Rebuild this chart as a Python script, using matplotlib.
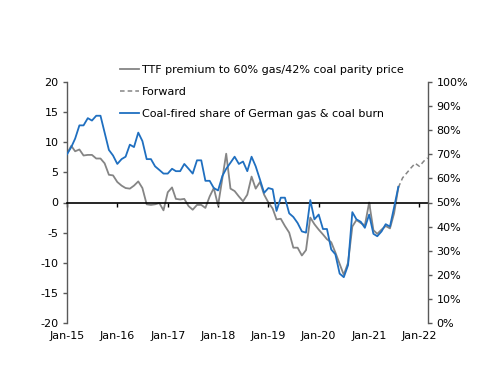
import matplotlib
matplotlib.use("Agg")
import matplotlib.pyplot as plt
import pandas as pd

# ---- data (monthly, Jan-15 .. Aug-21) ----
ttf_premium = [8.1, 9.4, 8.5, 8.8, 7.8, 7.9, 7.9, 7.3, 7.3, 6.5, 4.6, 4.5,
               3.4, 2.8, 2.4, 2.3, 2.8, 3.5, 2.4, -0.3, -0.4, -0.3, -0.1, -1.3,
               1.7, 2.5, 0.6, 0.5, 0.6, -0.6, -1.2, -0.4, -0.4, -0.9, 1.0, 2.4,
               -0.5, 4.0, 8.1, 2.3, 1.9, 1.0, 0.2, 1.3, 4.3, 2.3, 3.4, 1.3,
               0.0, -1.0, -2.8, -2.7, -3.9, -5.0, -7.5, -7.5, -8.8, -7.9, -2.5, -3.6,
               -4.5, -5.3, -6.1, -6.6, -8.3, -10.2, -12.0, -10.0, -4.0, -2.9, -3.4, -3.8,
               0.0, -4.6, -5.2, -4.5, -3.9, -4.3, -1.8, 2.5]

coal_share = [70, 73, 76.5, 82, 82, 85, 84, 86, 86, 79, 71.8, 69.5,
              66, 68, 69, 74, 73, 79, 75.5, 68, 68, 65, 63.5, 62,
              62, 64, 63, 63, 66, 64, 62, 67.5, 67.5, 59, 59, 56,
              55, 61, 64, 66.5, 69, 66, 67, 63, 69, 65, 59.5, 54,
              56, 55.5, 46.5, 52, 52, 45.5, 44, 41.5, 38, 37.5, 51, 43,
              45, 39, 39, 30.5, 28.5, 20.5, 19, 24, 46, 43, 42, 39.5,
              45, 37, 36, 38, 41, 40, 48, 56.5]

# forward curve (Aug-21 .. Mar-22)
forward = [2.5, 4.1, 4.9, 5.75, 6.5, 6.0, 6.85, 7.4]

hist_dates = pd.date_range("2015-01-01", periods=len(ttf_premium), freq="MS")
fwd_dates = pd.date_range("2021-08-01", periods=len(forward), freq="MS")

tick_dates = pd.date_range("2015-01-01", "2022-01-01", freq="YS")
tick_labels = ["Jan-15", "Jan-16", "Jan-17", "Jan-18", "Jan-19", "Jan-20", "Jan-21", "Jan-22"]
left_ticks = [-20, -15, -10, -5, 0, 5, 10, 15, 20]
right_ticks = [0, 10, 20, 30, 40, 50, 60, 70, 80, 90, 100]

labels = ["TTF premium to 60% gas/42% coal parity price",
          "Forward",
          "Coal-fired share of German gas & coal burn"]

GREY = "#858585"
BLUE = "#1f6fc0"
SPINE = "#595959"

plt.rcParams["font.family"] = ["DejaVu Sans"]
plt.rcParams["font.size"] = 8

fig = plt.figure(figsize=(5.0, 3.86), dpi=100)
ax = fig.add_axes([67 / 500, 1 - 323 / 386, (428 - 67) / 500, (323 - 82) / 386])
ax2 = ax.twinx()

l1, = ax.plot(hist_dates, ttf_premium, color=GREY, lw=1.3)
l2, = ax.plot(fwd_dates, forward, color=GREY, lw=1.1, ls=(0, (3, 2)))
l3, = ax2.plot(hist_dates, coal_share, color=BLUE, lw=1.3)

xmin = pd.Timestamp("2015-01-01")
xmax = pd.Timestamp("2022-03-04")
ax.set_xlim(xmin, xmax)
ax.set_ylim(-20, 20)
ax2.set_ylim(0, 100)

ax.set_yticks(left_ticks)
ax.set_yticklabels([str(v) for v in left_ticks])
ax2.set_yticks(right_ticks)
ax2.set_yticklabels([f"{v}%" for v in right_ticks])

ax.set_xticks(tick_dates)
ax.set_xticklabels(tick_labels)

for a in (ax, ax2):
    a.spines["top"].set_visible(False)
ax.spines["right"].set_visible(False)
ax2.spines["left"].set_visible(False)
ax2.spines["bottom"].set_visible(False)
ax.spines["left"].set_color(SPINE)
ax2.spines["right"].set_color(SPINE)
ax.spines["left"].set_linewidth(1.0)
ax2.spines["right"].set_linewidth(1.0)

# x-axis along zero line
ax.spines["bottom"].set_position(("data", 0))
ax.spines["bottom"].set_color("black")
ax.spines["bottom"].set_linewidth(1.2)
ax.tick_params(axis="x", direction="out", length=3, width=1, color="black",
               pad=89.5, labelsize=8)
ax.tick_params(axis="y", direction="out", length=3, width=1, color=SPINE,
               pad=3, labelsize=8)
ax2.tick_params(axis="y", direction="out", length=3, width=1, color=SPINE,
                pad=3, labelsize=8)

leg = fig.legend([l1, l2, l3], labels, loc="upper left",
                 bbox_to_anchor=(120 / 500, 1 - 65 / 386),
                 frameon=False, fontsize=8, handlelength=1.75,
                 handletextpad=0.25, labelspacing=1.08, borderpad=0,
                 borderaxespad=0)

fig.savefig("out.png", dpi=100)
